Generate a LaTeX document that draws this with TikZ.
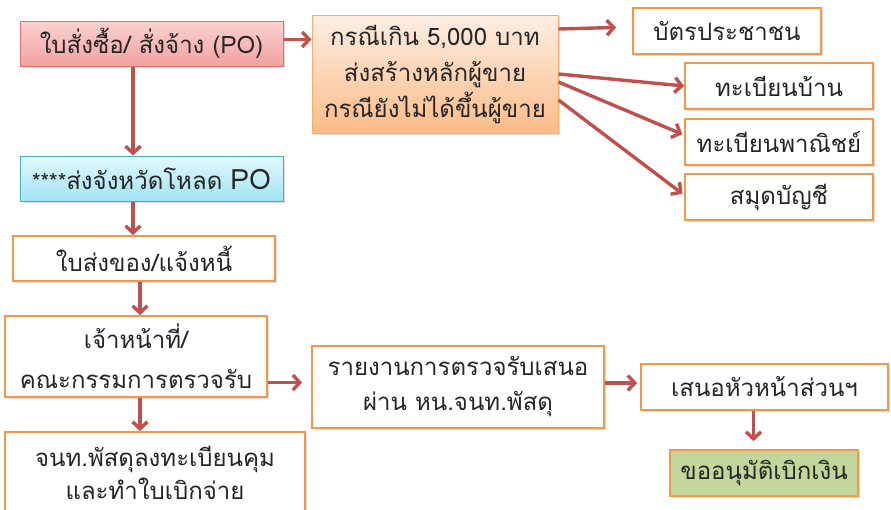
\documentclass[tikz,border=0pt]{standalone}
\usepackage{fontspec}
\newfontfamily\thai[Script=Thai]{Loma}
\usetikzlibrary{arrows.meta,shadows}
\definecolor{arr}{HTML}{C0504D}
\definecolor{obord}{HTML}{F79646}
\definecolor{pinkbord}{HTML}{E07070}
\definecolor{pinktop}{HTML}{FAD2D2}
\definecolor{pinkbot}{HTML}{F3A0A0}
\definecolor{cyanbord}{HTML}{4BACC6}
\definecolor{cyantop}{HTML}{E2F8FD}
\definecolor{cyanbot}{HTML}{A2E4F4}
\definecolor{ortop}{HTML}{FEEEE3}
\definecolor{orbot}{HTML}{FBBC88}
\definecolor{greenfill}{HTML}{C3D69B}
\begin{document}
\begin{tikzpicture}[x=1pt,y=-1pt,
  font=\thai\fontsize{24}{36}\selectfont,
  boxbase/.style={rectangle, inner sep=0pt, align=center, text=black!85,
    drop shadow={shadow xshift=1.5pt, shadow yshift=-1.5pt, opacity=0.25}},
  obox/.style={boxbase, draw=obord, line width=1.8pt, fill=white},
  arr/.style={draw=arr, line width=3.4pt, -{Straight Barb[length=7pt,width=15pt]}}
]
\useasboundingbox (0,0) rectangle (891,509);

% top-left chain
\node[boxbase, draw=pinkbord, line width=1pt, top color=pinktop, bottom color=pinkbot,
  minimum width=263pt, minimum height=45pt] (po) at (151.5,43.5) {ใบสั่งซื้อ/ สั่งจ้าง (PO)};
\node[boxbase, draw=cyanbord, line width=1pt, top color=cyantop, bottom color=cyanbot,
  minimum width=263pt, minimum height=45pt] (prov) at (151.5,178.5)
  {{\fontsize{22}{24}\selectfont ****}ส่งจังหวัดโหลด {\fontsize{28}{30}\selectfont PO}};
\node[obox, minimum width=262pt, minimum height=45pt] (slip) at (144,258.5) {ใบส่งของ/แจ้งหนี้};
\node[obox, minimum width=262pt, minimum height=81pt, font=\thai\fontsize{24}{40}\selectfont] (officer) at (136,356.5)
  {เจ้าหน้าที่/\\คณะกรรมการตรวจรับ};
\node[obox, minimum width=300pt, minimum height=82pt, font=\thai\fontsize{24}{33}\selectfont] (reg) at (155,473)
  {จนท.พัสดุลงทะเบียนคุม\\และทำใบเบิกจ่าย};

% middle / right
\node[boxbase, draw=obord!80, line width=1pt, top color=ortop, bottom color=orbot,
  minimum width=246pt, minimum height=118pt] (cond) at (435,74)
  {กรณีเกิน 5,000 บาท\\ส่งสร้างหลักผู้ขาย\\กรณียังไม่ได้ขึ้นผู้ขาย};
\node[obox, minimum width=188pt, minimum height=46pt] (card) at (727,31) {บัตรประชาชน};
\node[obox, minimum width=188pt, minimum height=46pt] (house) at (779,86) {ทะเบียนบ้าน};
\node[obox, minimum width=188pt, minimum height=46pt] (comm) at (779,142) {ทะเบียนพาณิชย์};
\node[obox, minimum width=188pt, minimum height=46pt] (book) at (779,197) {สมุดบัญชี};

\node[obox, minimum width=292pt, minimum height=82pt, font=\thai\fontsize{24}{35}\selectfont] (report) at (458,387)
  {รายงานการตรวจรับเสนอ\\ผ่าน หน.จนท.พัสดุ};
\node[obox, minimum width=247pt, minimum height=46pt] (head) at (764.5,387) {เสนอหัวหน้าส่วนฯ};
\node[obox, fill=greenfill, minimum width=188pt, minimum height=46pt] (approve) at (764,473) {ขออนุมัติเบิกเงิน};

% arrows
\draw[arr] ([yshift=4pt]po.east) -- ([yshift=4pt]po.east -| cond.west);
\draw[arr] ([xshift=-18.5pt]po.south) -- ([xshift=-18.5pt]po.south |- prov.north);
\draw[arr] ([xshift=-18.5pt]prov.south) -- ([xshift=-18.5pt]prov.south |- slip.north);
\draw[arr] ([xshift=-4pt]slip.south) -- ([xshift=-4pt]slip.south |- officer.north);
\draw[arr] ([xshift=4pt]officer.south) -- ([xshift=4pt]officer.south |- reg.north);
\draw[arr, shorten >=9pt] ([yshift=-26pt]officer.east) -- ([yshift=-26pt]officer.east -| report.west);
\draw[arr, shorten >=3pt] ([yshift=4pt]report.east) -- ([yshift=4pt]report.east -| head.west);
\draw[arr, shorten >=8pt] ([xshift=-11pt]head.south) -- ([xshift=-11pt]head.south |- approve.north);

\draw[arr, shorten >=16pt] ([yshift=45pt]cond.east) -- ([yshift=4pt]card.west);
\draw[arr] (cond.east) -- (house.west);
\draw[arr, shorten >=2pt] ([yshift=-8pt]cond.east) -- ([yshift=7pt]comm.west);
\draw[arr, shorten >=2pt] ([yshift=-26pt]cond.east) -- ([yshift=2pt]book.west);
\end{tikzpicture}
\end{document}
